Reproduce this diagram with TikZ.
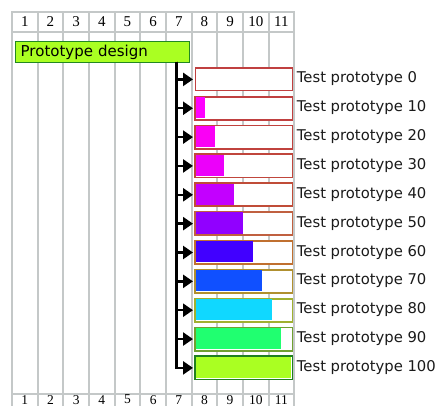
\documentclass[tikz,border=0pt]{standalone}
\usepackage{fontspec}
\setmainfont{DejaVu Sans}
\newfontfamily\digitfont{Liberation Serif}
\usetikzlibrary{arrows.meta}
\definecolor{gridc}{RGB}{196,200,200}
\definecolor{designfill}{RGB}{170,255,34}
\definecolor{designdraw}{RGB}{34,136,34}
\definecolor{labc}{RGB}{26,26,26}
% progress fill colours
\definecolor{p10}{RGB}{255,0,255}
\definecolor{p20}{RGB}{250,0,245}
\definecolor{p30}{RGB}{236,0,250}
\definecolor{p40}{RGB}{195,0,255}
\definecolor{p50}{RGB}{145,0,255}
\definecolor{p60}{RGB}{65,0,255}
\definecolor{p70}{RGB}{16,80,255}
\definecolor{p80}{RGB}{16,216,255}
\definecolor{p90}{RGB}{32,255,112}
\definecolor{p100}{RGB}{170,255,34}
% border colours
\definecolor{d0}{RGB}{192,64,64}
\definecolor{d10}{RGB}{192,64,64}
\definecolor{d20}{RGB}{192,66,62}
\definecolor{d30}{RGB}{192,70,60}
\definecolor{d40}{RGB}{192,76,56}
\definecolor{d50}{RGB}{192,96,64}
\definecolor{d60}{RGB}{192,112,48}
\definecolor{d70}{RGB}{176,144,48}
\definecolor{d80}{RGB}{160,176,48}
\definecolor{d90}{RGB}{112,160,48}
\definecolor{d100}{RGB}{32,128,32}
\begin{document}
\begin{tikzpicture}[x=1pt,y=-1pt,
  gridline/.style={draw=gridc,line width=1.8pt},
  digit/.style={inner sep=0pt,font=\digitfont\fontsize{15pt}{15pt}\selectfont,text=black},
  botdigit/.style={digit,font=\digitfont\fontsize{13.5pt}{14pt}\selectfont},
  designbar/.style={draw=designdraw,fill=designfill,line width=1.4pt,anchor=north west,
    minimum width=174pt,minimum height=21.3pt,inner xsep=5pt,inner ysep=0pt,
    text width=164pt,align=left,font=\fontsize{15pt}{16pt}\selectfont,text=black},
  taskbox/.style={fill=white,line width=1.3pt,anchor=north west,minimum width=96.5pt,
    minimum height=22.5pt,inner sep=0pt},
  lab/.style={anchor=west,inner sep=0pt,font=\fontsize{14.8pt}{16pt}\selectfont,text=labc},
  conn/.style={draw=black,line width=2.5pt,-{Triangle[length=10pt,width=13pt]},shorten >=2pt}]
\useasboundingbox (0,0) rectangle (444,406);
\clip (0,0) rectangle (444,406);
\fill[white] (0,0) rectangle (444,406);
% grid
\foreach \k in {0,...,11}
  \draw[gridline] ({12+25.66*\k},12) -- ({12+25.66*\k},420);
\foreach \y in {12,32,394,414}
  \draw[gridline] (11.1,\y) -- (295.2,\y);
\foreach \k in {1,...,11}{
  \node[digit] (top\k) at ({12+25.66*(\k-0.5)},22) {\k};
  \node[botdigit] (bot\k) at ({12+25.66*(\k-0.5)},399.6) {\k};
}
% design task
\node[designbar] (design) at (15,40.7) {Prototype design};
\coordinate (trunk) at (176.7,61.8);
% test tasks
\foreach \i/\p in {0/0,1/10,2/20,3/30,4/40,5/50,6/60,7/70,8/80,9/90,10/100}{
  \pgfmathsetmacro{\top}{67.5+28.85*\i}
  \node[taskbox,draw=d\p] (b\p) at (195,\top) {};
  \ifnum\p>0
    \fill[p\p] ([shift={(0.65,0.65)}]b\p.north west) rectangle ++({0.952*\p},21.2);
    \draw[d\p,line width=1.3pt] (b\p.north west) rectangle (b\p.south east);
  \fi
  \node[lab] (l\p) at (296.7,\top+11.5) {Test prototype \p};
  \draw[conn] (trunk) |- (b\p.west);
}
\end{tikzpicture}
\end{document}
